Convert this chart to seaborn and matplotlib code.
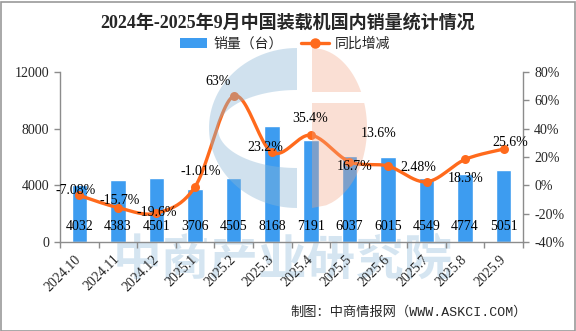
import numpy as np
import pandas as pd
import matplotlib
matplotlib.use("Agg")
import matplotlib.pyplot as plt
import seaborn as sns
from matplotlib.patches import Patch, Polygon, Rectangle, PathPatch
from matplotlib.path import Path
from matplotlib.lines import Line2D

# ---------------- data ----------------
months = ["2024.10", "2024.11", "2024.12", "2025.1", "2025.2", "2025.3",
          "2025.4", "2025.5", "2025.6", "2025.7", "2025.8", "2025.9"]
sales = [4032, 4383, 4501, 3706, 4505, 8168, 7191, 6037, 6015, 4549, 4774, 5051]
yoy = [-7.08, -15.7, -19.6, -1.01, 63, 23.2, 35.4, 16.7, 13.6, 2.48, 18.3, 25.6]
yoy_text = ["-7.08%", "-15.7%", "-19.6%", "-1.01%", "63%", "23.2%", "35.4%",
            "16.7%", "13.6%", "2.48%", "18.3%", "25.6%"]
# label offsets from their points, in pixels (dx, dy up)
yoy_label_offsets = [(-4, 5), (2, 7), (0, 1), (6, 15), (-16, 15), (-7, 5),
                     (-1, 17), (5, -5), (-9, 33), (-8, 14), (0, -19), (7, 7)]
left_ticks = [0, 4000, 8000, 12000]
right_ticks = [-40, -20, 0, 20, 40, 60, 80]

BLUE = "#3d9cf0"
ORANGE = "#ff6a1c"
GRAY = "#8c8c8c"
W, H = 576, 331

sns.set_theme(style="white")
plt.rcParams["font.family"] = ["Liberation Serif", "Noto Sans CJK SC"]

fig = plt.figure(figsize=(W / 100, H / 100), dpi=100)
fig.patch.set_facecolor("white")

rect = [60 / W, 1 - 242 / H, 463 / W, 170 / H]
ax = fig.add_axes(rect, zorder=0)
ax.patch.set_visible(False)

df = pd.DataFrame({"month": months, "sales": sales})
sns.barplot(data=df, x="month", y="sales", color=BLUE, width=0.4,
            saturation=1, ax=ax)
ax.set_xlim(-0.5, len(months) - 0.5)
ax.set_ylim(0, 12000)
ax.set_yticks(left_ticks)
ax.set_yticklabels([str(v) for v in left_ticks], fontsize=10)
ax.set_xlabel("")
ax.set_ylabel("")
ax.set_xticks(range(len(months)))
ax.set_xticklabels(months, fontsize=10, rotation=45, ha="right",
                   rotation_mode="anchor", va="center")
ax.set_xticks(np.arange(-0.5, len(months), 1), minor=True)
ax.tick_params(axis="x", which="major", length=0, pad=11)
ax.tick_params(axis="x", which="minor", length=4, color=GRAY, width=1,
               direction="out", bottom=True)
ax.tick_params(axis="y", length=4, color=GRAY, width=1, pad=4,
               direction="out", left=True)
for s in ["top", "right"]:
    ax.spines[s].set_visible(False)
for s in ["left", "bottom"]:
    ax.spines[s].set_color(GRAY)
    ax.spines[s].set_linewidth(1)

for i, v in enumerate(sales):
    ax.annotate(str(v), (i, 0), xytext=(0, 16), textcoords="offset pixels",
                ha="center", va="center", fontsize=10, color="black")

# ---------- line axis ----------
ax2 = ax.twinx()
ax2.set_zorder(1)
ax2.patch.set_visible(False)
ax2.set_ylim(-40, 80)
ax2.set_yticks(right_ticks)
ax2.set_yticklabels([f"{v}%" for v in right_ticks], fontsize=10)
ax2.tick_params(axis="y", length=4, color=GRAY, width=1, pad=4,
                direction="out", right=True)
for s in ["top", "left", "bottom"]:
    ax2.spines[s].set_visible(False)
ax2.spines["right"].set_color(GRAY)
ax2.spines["right"].set_linewidth(1)
ax2.grid(False)
ax.grid(False)


def catmull_rom(x, y, n=24):
    pts = np.column_stack([x, y]).astype(float)
    out = []
    m = len(pts)
    for i in range(m - 1):
        p0 = pts[max(i - 1, 0)]
        p1 = pts[i]
        p2 = pts[i + 1]
        p3 = pts[min(i + 2, m - 1)]
        t = np.linspace(0, 1, n, endpoint=(i == m - 2))[:, None]
        seg = 0.5 * ((2 * p1) + (-p0 + p2) * t +
                     (2 * p0 - 5 * p1 + 4 * p2 - p3) * t ** 2 +
                     (-p0 + 3 * p1 - 3 * p2 + p3) * t ** 3)
        out.append(seg)
    out = np.vstack(out)
    return out[:, 0], out[:, 1]


xs, ys = catmull_rom(np.arange(len(yoy)), yoy)
sns.lineplot(x=xs, y=ys, ax=ax2, color=ORANGE, linewidth=2.4, sort=False,
             estimator=None)
sns.scatterplot(x=np.arange(len(yoy)), y=yoy, ax=ax2, color=ORANGE, s=42,
                edgecolor=ORANGE, linewidth=0, zorder=5)
ax2.set_xlim(-0.5, len(months) - 0.5)

# ---------- watermark (behind) ----------
fig.text(283 / W, 1 - 261 / H, "中商产业研究院", fontsize=35, fontweight="bold",
         family=["Noto Sans CJK SC"], color="#9cc3df", alpha=0.42,
         ha="center", va="center", zorder=-1)


# ---------- logo overlay ----------
def px(x, y):
    return (x / W, 1 - y / H)


def half_ellipse(cx, cy, rx, ry, left=True, n=60):
    th = np.linspace(np.pi / 2, 3 * np.pi / 2, n) if left else \
        np.linspace(np.pi / 2, -np.pi / 2, n)
    return [(cx + rx * np.cos(t), cy - ry * np.sin(t)) for t in th]


outer = half_ellipse(297, 128, 88, 80, left=True)
inner = half_ellipse(297, 129, 79, 39, left=True)[::-1]
verts = [px(*p) for p in outer] + [px(*outer[0])] + \
        [px(*p) for p in inner] + [px(*inner[0])]
codes = ([Path.MOVETO] + [Path.LINETO] * (len(outer) - 1) + [Path.CLOSEPOLY] +
         [Path.MOVETO] + [Path.LINETO] * (len(inner) - 1) + [Path.CLOSEPOLY])
blue_logo = PathPatch(Path(verts, codes), facecolor="#8ab6d6", alpha=0.4,
                      edgecolor="none", transform=fig.transFigure, zorder=2)
fig.add_artist(blue_logo)


def pink_piece(y0, y1, cx=312, cy=128, rx=55, ry=80, n=40):
    yy = np.linspace(y0, y1, n)
    right = [(cx + rx * np.sqrt(max(0.0, 1 - ((y - cy) / ry) ** 2)), y) for y in yy]
    pts = [(cx, y0)] + right + [(cx, y1)]
    return Polygon([px(*p) for p in pts], closed=True, facecolor="#f2a584",
                   alpha=0.35, edgecolor="none", transform=fig.transFigure,
                   zorder=2)


fig.add_artist(pink_piece(48, 92))
fig.add_artist(pink_piece(103, 208))

# ---------- label overlay axes ----------
ax3 = fig.add_axes(rect, zorder=3)
ax3.set_xlim(-0.5, len(months) - 0.5)
ax3.set_ylim(-40, 80)
ax3.axis("off")
for i, (v, t, (dx, dy)) in enumerate(zip(yoy, yoy_text, yoy_label_offsets)):
    ax3.annotate(t, (i, v), xytext=(dx, dy), textcoords="offset pixels",
                 ha="center", va="center", fontsize=10, color="black")

# ---------- title, legend, footer ----------
fig.text(0.5, 1 - 23 / H, "2024年-2025年9月中国装载机国内销量统计情况",
         fontsize=13, fontweight="bold", ha="center", va="center")

handles = [Patch(facecolor=BLUE, edgecolor="none"),
           Line2D([0], [0], color=ORANGE, lw=2.4, marker="o", markersize=6.5)]
fig.legend(handles, ["销量（台）", "同比增减"], loc="center",
           bbox_to_anchor=(285 / W, 1 - 44 / H), ncol=2, frameon=False,
           fontsize=10, handlelength=2.0, handleheight=0.72,
           handletextpad=0.45, columnspacing=1.3, borderaxespad=0)

fig.text(527 / W, 1 - 312 / H, "制图：中商情报网（WWW.ASKCI.COM）",
         fontsize=9.5, ha="right", va="center",
         family=["Liberation Mono", "Noto Sans CJK SC"])

fig.add_artist(Rectangle((0.5 / W, 0.5 / H), 1 - 2 / W, 1 - 2 / H,
                         transform=fig.transFigure, fill=False,
                         edgecolor="#999999", linewidth=1.2, zorder=20))

fig.savefig("out.png", dpi=100)
